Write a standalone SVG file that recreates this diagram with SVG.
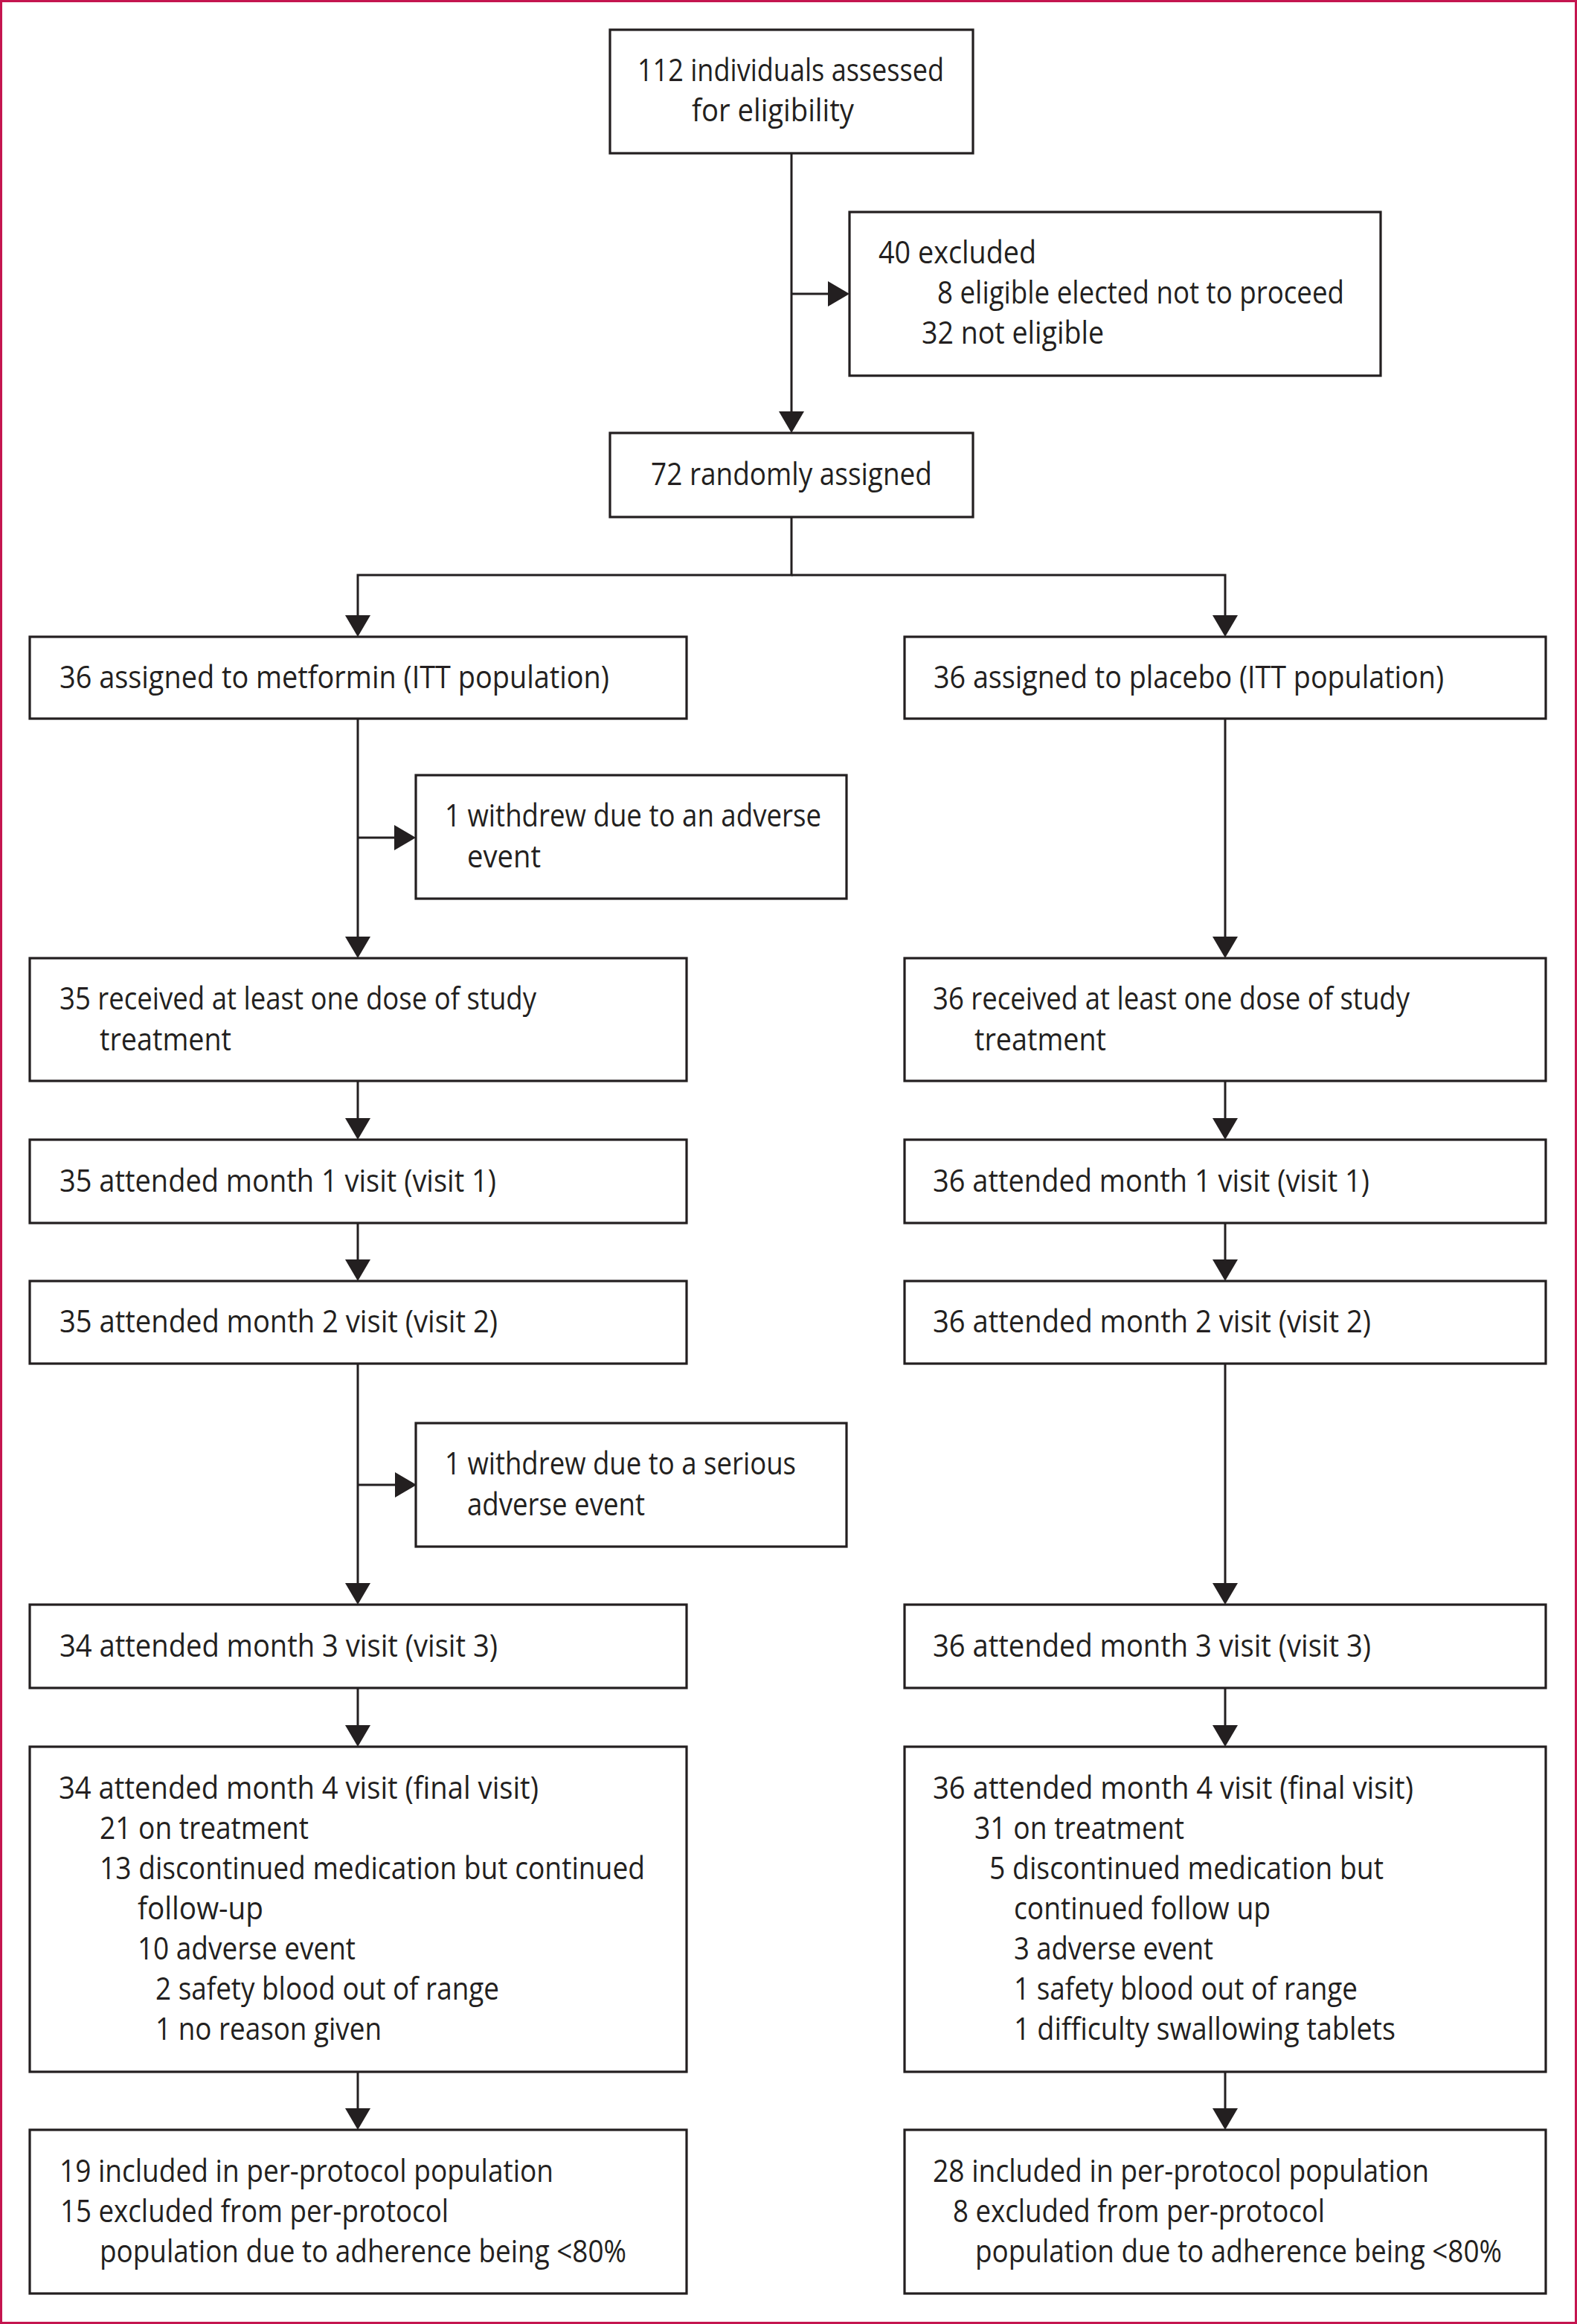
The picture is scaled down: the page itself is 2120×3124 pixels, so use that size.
<svg xmlns="http://www.w3.org/2000/svg" width="2120" height="3124" viewBox="0 0 2120 3124">
<style>
.box{fill:#fff;stroke:#231F20;stroke-width:3.2}
.con{fill:none;stroke:#231F20;stroke-width:3}
text{font-family:"Open Sans","Noto Sans","Liberation Sans",sans-serif;font-size:42px;fill:#231F20}
</style>
<defs>
<marker id="ah" markerUnits="userSpaceOnUse" markerWidth="30" markerHeight="34" refX="0" refY="17" orient="auto">
<path d="M0,0 L29,17 L0,34 Z" fill="#231F20"/>
</marker>
</defs>
<rect x="0" y="0" width="2120" height="3124" fill="#fff"/>
<rect x="1.5" y="1.5" width="2117" height="3121" fill="none" stroke="#C4154F" stroke-width="3"/>
<g id="connectors">
<path class="con" d="M1064,206 V553" marker-end="url(#ah)"/>
<path class="con" d="M1064,395 H1113" marker-end="url(#ah)"/>
<path class="con" d="M1064,695 V773 H481 V827" marker-end="url(#ah)"/>
<path class="con" d="M1064,773 H1647 V827" marker-end="url(#ah)"/>
<path class="con" d="M481,966 V1259" marker-end="url(#ah)"/>
<path class="con" d="M481,1126 H530" marker-end="url(#ah)"/>
<path class="con" d="M481,1453 V1503" marker-end="url(#ah)"/>
<path class="con" d="M481,1644 V1693" marker-end="url(#ah)"/>
<path class="con" d="M481,1833 V2128" marker-end="url(#ah)"/>
<path class="con" d="M481,1996 H531" marker-end="url(#ah)"/>
<path class="con" d="M481,2269 V2319" marker-end="url(#ah)"/>
<path class="con" d="M481,2785 V2834" marker-end="url(#ah)"/>
<path class="con" d="M1647,966 V1259" marker-end="url(#ah)"/>
<path class="con" d="M1647,1453 V1503" marker-end="url(#ah)"/>
<path class="con" d="M1647,1644 V1693" marker-end="url(#ah)"/>
<path class="con" d="M1647,1833 V2128" marker-end="url(#ah)"/>
<path class="con" d="M1647,2269 V2319" marker-end="url(#ah)"/>
<path class="con" d="M1647,2785 V2834" marker-end="url(#ah)"/>
</g>
<g id="assessed">
<rect class="box" x="820" y="40" width="488" height="166"/>
<text x="857" y="109" textLength="412" lengthAdjust="spacingAndGlyphs">112 individuals assessed</text>
<text x="930" y="163" textLength="218" lengthAdjust="spacingAndGlyphs">for eligibility</text>
</g>
<g id="excluded">
<rect class="box" x="1142" y="285" width="714" height="220"/>
<text x="1181" y="354" textLength="212" lengthAdjust="spacingAndGlyphs">40 excluded</text>
<text x="1260" y="408" textLength="547" lengthAdjust="spacingAndGlyphs">8 eligible elected not to proceed</text>
<text x="1239" y="462" textLength="245" lengthAdjust="spacingAndGlyphs">32 not eligible</text>
</g>
<g id="randomised">
<rect class="box" x="820" y="582" width="488" height="113"/>
<text x="875" y="652" textLength="378" lengthAdjust="spacingAndGlyphs">72 randomly assigned</text>
</g>
<g id="assigned-metformin">
<rect class="box" x="40" y="856" width="883" height="110"/>
<text x="80" y="925" textLength="739" lengthAdjust="spacingAndGlyphs">36 assigned to metformin (ITT population)</text>
</g>
<g id="assigned-placebo">
<rect class="box" x="1216" y="856" width="862" height="110"/>
<text x="1255" y="925" textLength="686" lengthAdjust="spacingAndGlyphs">36 assigned to placebo (ITT population)</text>
</g>
<g id="withdrew-1">
<rect class="box" x="559" y="1042" width="579" height="166"/>
<text x="598" y="1111" textLength="506" lengthAdjust="spacingAndGlyphs">1 withdrew due to an adverse</text>
<text x="628" y="1166" textLength="99" lengthAdjust="spacingAndGlyphs">event</text>
</g>
<g id="received-metformin">
<rect class="box" x="40" y="1288" width="883" height="165"/>
<text x="80" y="1357" textLength="641" lengthAdjust="spacingAndGlyphs">35 received at least one dose of study</text>
<text x="134" y="1412" textLength="177" lengthAdjust="spacingAndGlyphs">treatment</text>
</g>
<g id="received-placebo">
<rect class="box" x="1216" y="1288" width="862" height="165"/>
<text x="1254" y="1357" textLength="641" lengthAdjust="spacingAndGlyphs">36 received at least one dose of study</text>
<text x="1310" y="1412" textLength="177" lengthAdjust="spacingAndGlyphs">treatment</text>
</g>
<g id="month1-metformin">
<rect class="box" x="40" y="1532" width="883" height="112"/>
<text x="80" y="1602" textLength="587" lengthAdjust="spacingAndGlyphs">35 attended month 1 visit (visit 1)</text>
</g>
<g id="month1-placebo">
<rect class="box" x="1216" y="1532" width="862" height="112"/>
<text x="1254" y="1602" textLength="587" lengthAdjust="spacingAndGlyphs">36 attended month 1 visit (visit 1)</text>
</g>
<g id="month2-metformin">
<rect class="box" x="40" y="1722" width="883" height="111"/>
<text x="80" y="1791" textLength="589" lengthAdjust="spacingAndGlyphs">35 attended month 2 visit (visit 2)</text>
</g>
<g id="month2-placebo">
<rect class="box" x="1216" y="1722" width="862" height="111"/>
<text x="1254" y="1791" textLength="589" lengthAdjust="spacingAndGlyphs">36 attended month 2 visit (visit 2)</text>
</g>
<g id="withdrew-2">
<rect class="box" x="559" y="1913" width="579" height="166"/>
<text x="598" y="1982" textLength="472" lengthAdjust="spacingAndGlyphs">1 withdrew due to a serious</text>
<text x="628" y="2037" textLength="239" lengthAdjust="spacingAndGlyphs">adverse event</text>
</g>
<g id="month3-metformin">
<rect class="box" x="40" y="2157" width="883" height="112"/>
<text x="80" y="2227" textLength="589" lengthAdjust="spacingAndGlyphs">34 attended month 3 visit (visit 3)</text>
</g>
<g id="month3-placebo">
<rect class="box" x="1216" y="2157" width="862" height="112"/>
<text x="1254" y="2227" textLength="589" lengthAdjust="spacingAndGlyphs">36 attended month 3 visit (visit 3)</text>
</g>
<g id="month4-metformin">
<rect class="box" x="40" y="2348" width="883" height="437"/>
<text x="79" y="2418" textLength="645" lengthAdjust="spacingAndGlyphs">34 attended month 4 visit (final visit)</text>
<text x="134" y="2472" textLength="281" lengthAdjust="spacingAndGlyphs">21 on treatment</text>
<text x="134" y="2526" textLength="733" lengthAdjust="spacingAndGlyphs">13 discontinued medication but continued</text>
<text x="185" y="2580" textLength="169" lengthAdjust="spacingAndGlyphs">follow-up</text>
<text x="185" y="2634" textLength="293" lengthAdjust="spacingAndGlyphs">10 adverse event</text>
<text x="209" y="2688" textLength="462" lengthAdjust="spacingAndGlyphs">2 safety blood out of range</text>
<text x="209" y="2742" textLength="304" lengthAdjust="spacingAndGlyphs">1 no reason given</text>
</g>
<g id="month4-placebo">
<rect class="box" x="1216" y="2348" width="862" height="437"/>
<text x="1254" y="2418" textLength="646" lengthAdjust="spacingAndGlyphs">36 attended month 4 visit (final visit)</text>
<text x="1310" y="2472" textLength="282" lengthAdjust="spacingAndGlyphs">31 on treatment</text>
<text x="1330" y="2526" textLength="530" lengthAdjust="spacingAndGlyphs">5 discontinued medication but</text>
<text x="1363" y="2580" textLength="345" lengthAdjust="spacingAndGlyphs">continued follow up</text>
<text x="1363" y="2634" textLength="268" lengthAdjust="spacingAndGlyphs">3 adverse event</text>
<text x="1363" y="2688" textLength="462" lengthAdjust="spacingAndGlyphs">1 safety blood out of range</text>
<text x="1363" y="2742" textLength="513" lengthAdjust="spacingAndGlyphs">1 difficulty swallowing tablets</text>
</g>
<g id="pp-metformin">
<rect class="box" x="40" y="2863" width="883" height="220"/>
<text x="80" y="2933" textLength="664" lengthAdjust="spacingAndGlyphs">19 included in per-protocol population</text>
<text x="81" y="2987" textLength="522" lengthAdjust="spacingAndGlyphs">15 excluded from per-protocol</text>
<text x="134" y="3041" textLength="708" lengthAdjust="spacingAndGlyphs">population due to adherence being &lt;80%</text>
</g>
<g id="pp-placebo">
<rect class="box" x="1216" y="2863" width="862" height="220"/>
<text x="1254" y="2933" textLength="667" lengthAdjust="spacingAndGlyphs">28 included in per-protocol population</text>
<text x="1281" y="2987" textLength="500" lengthAdjust="spacingAndGlyphs">8 excluded from per-protocol</text>
<text x="1311" y="3041" textLength="708" lengthAdjust="spacingAndGlyphs">population due to adherence being &lt;80%</text>
</g>
</svg>
